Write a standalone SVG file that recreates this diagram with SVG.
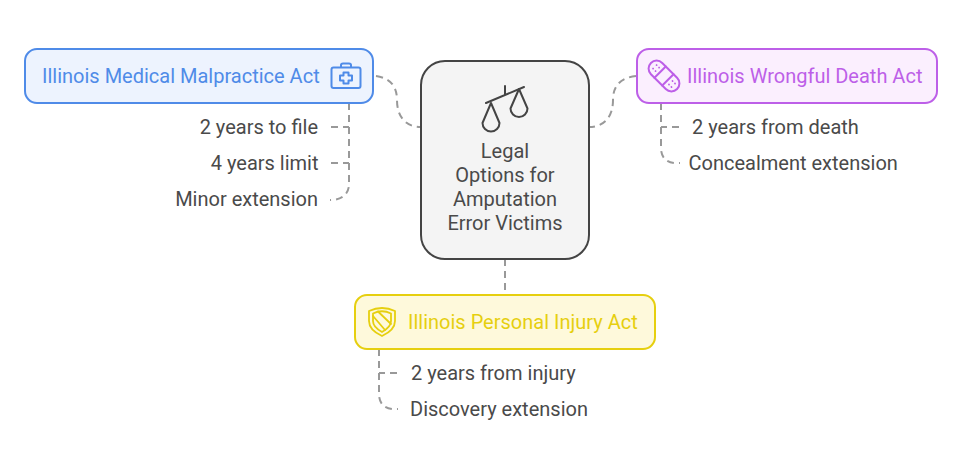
<svg xmlns="http://www.w3.org/2000/svg" width="962" height="470" viewBox="0 0 962 470">
<style>
text{font-family:Roboto,"Liberation Sans",sans-serif;font-size:20px}
.t{fill:#4a4a4a}
.c{fill:none;stroke:#999;stroke-width:2;stroke-dasharray:7 5}
.box{stroke-width:2}
.ic{fill:none;stroke-width:2;stroke-linecap:round;stroke-linejoin:round}
</style>
<rect width="962" height="470" fill="#fff"/>
<g id="connectors">
<path class="c" d="M376 76C390 78 397 86 397 100C397 116 405 127 421 127"/>
<path class="c" d="M636 76C620 78 613 86 613 100C613 116 605 127 589 127"/>
<path class="c" d="M505 259V294"/>
<path class="c" d="M349 103V184C349 194 342 200 330 200"/>
<path class="c" d="M331 127H349"/>
<path class="c" d="M331 163H349"/>
<path class="c" d="M661 103V148C661 158 667 164 680 163"/>
<path class="c" d="M679 127H661"/>
<path class="c" d="M379 349V394C379 404 385 410 398 409"/>
<path class="c" d="M397 373H379"/>
</g>
<g id="node-center">
<rect x="421" y="61" width="168" height="198" rx="24" fill="#f4f4f4" stroke="#444" stroke-width="2"/>
<g class="ic" stroke="#444">
<path d="M486 103L524 87M505 95V86"/>
<path d="M491 103L482.500 123A8.500 8.500 0 1 0 499.500 123Z"/>
<path d="M519 89L510.500 108.500A8.500 8.500 0 1 0 527.500 108.500Z"/>
</g>
<text class="t" text-anchor="middle" x="505" y="158">Legal</text>
<text class="t" text-anchor="middle" x="505" y="182">Options for</text>
<text class="t" text-anchor="middle" x="505" y="206">Amputation</text>
<text class="t" text-anchor="middle" x="505" y="230">Error Victims</text>
</g>
<g id="node-medical">
<rect class="box" x="25" y="49" width="348" height="54" rx="12" fill="#edf3fe" stroke="#4f8be8"/>
<text x="42" y="83" fill="#4f8be8">Illinois Medical Malpractice Act</text>
<g class="ic" stroke="#4f8be8">
<rect x="331.500" y="67.500" width="29" height="20.500" rx="2"/>
<path d="M341 67V65Q341 63.500 343 63.500H349Q351 63.500 351 65V67"/>
<path d="M343.500 72.500H348.500V75.500H352V80.500H348.500V83.500H343.500V80.500H340V75.500H343.500Z"/>
</g>
<text class="t" text-anchor="end" x="318" y="134">2 years to file</text>
<text class="t" text-anchor="end" x="318.500" y="170">4 years limit</text>
<text class="t" text-anchor="end" x="318" y="206">Minor extension</text>
</g>
<g id="node-death">
<rect class="box" x="637" y="49" width="300" height="54" rx="12" fill="#fbeffe" stroke="#bd5fe8"/>
<text x="687" y="83" fill="#bd5fe8">Illinois Wrongful Death Act</text>
<g class="ic" stroke="#bd5fe8" transform="rotate(45 664 76)">
<rect x="645.500" y="68" width="37" height="16" rx="8"/>
<path d="M658.500 68V84M669.500 68V84"/>
<path d="M651 73.500h.1M654.500 73.500h.1M651 78.500h.1M654.500 78.500h.1M673.500 73.500h.1M677 73.500h.1M673.500 78.500h.1M677 78.500h.1" stroke-width="1.800"/>
</g>
<text class="t" x="692" y="134">2 years from death</text>
<text class="t" x="688.500" y="170">Concealment extension</text>
</g>
<g id="node-injury">
<rect class="box" x="355" y="295" width="300" height="54" rx="12" fill="#fef9db" stroke="#e6cf0f"/>
<text x="408" y="329" fill="#e6cf0f">Illinois Personal Injury Act</text>
<g class="ic" stroke="#e6cf0f">
<path d="M369 311Q382 305 395 311V321Q395 330 382 336Q369 330 369 321Z" stroke-width="1.800"/>
<path d="M373 313.500Q382 309 391 313.500V321Q391 327 382 332Q373 327 373 321Z" stroke-width="1.800"/>
<path d="M378 311.500L391 324M373 316L385 330" stroke-width="1.800"/>
</g>
<text class="t" x="411" y="380">2 years from injury</text>
<text class="t" x="410" y="416">Discovery extension</text>
</g>
</svg>
